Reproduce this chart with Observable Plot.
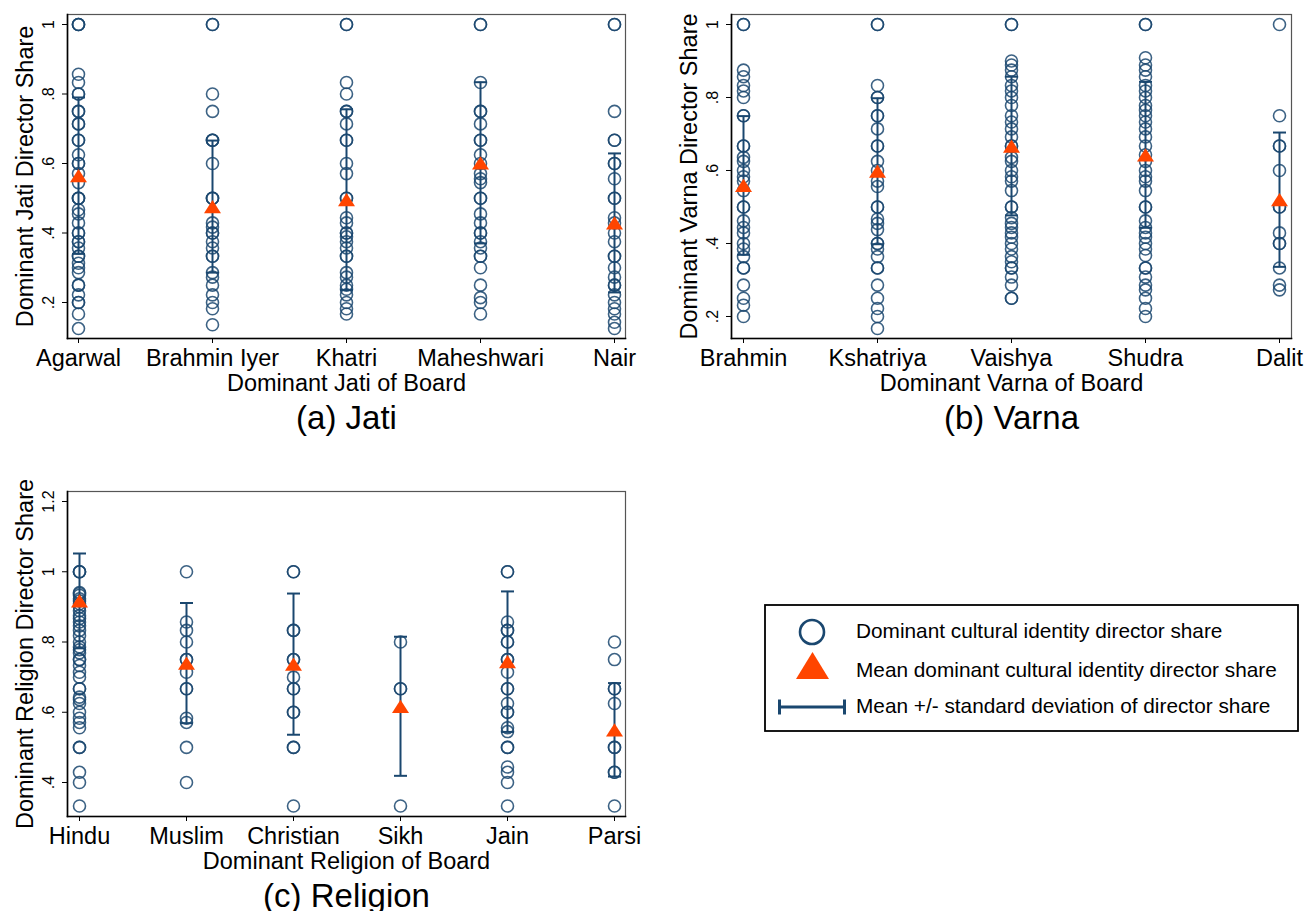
<!DOCTYPE html>
<html>
<head>
<meta charset="utf-8">
<script src="https://cdn.jsdelivr.net/npm/d3@7"></script>
<script src="https://cdn.jsdelivr.net/npm/@observablehq/plot@0.6"></script>
<style>
  body { margin: 0; background: #fff; }
  #chart { position: relative; width: 1305px; height: 911px; background: #fff;
           font-family: "Liberation Sans", Arial, sans-serif; }
  #chart > svg, #chart > figure { position: absolute; margin: 0; }
</style>
</head>
<body>
<div id="chart"></div>
<script>
// ---- Panel (a): dominant jati ----
const jatiCats = ["Agarwal", "Brahmin Iyer", "Khatri", "Maheshwari", "Nair"];
const jatiShares = [
  [1, 1, 1, 0.857, 0.833, 0.8, 0.8, 0.75, 0.75, 0.714, 0.714, 0.667, 0.667, 0.625, 0.6, 0.6, 0.571, 0.545,
   0.5, 0.5, 0.5, 0.467, 0.455, 0.429, 0.4, 0.4, 0.375, 0.375, 0.357, 0.333, 0.333, 0.313, 0.3, 0.286,
   0.25, 0.25, 0.222, 0.2, 0.2, 0.167, 0.125],
  [1, 1, 0.8, 0.75, 0.667, 0.667, 0.667, 0.6, 0.5, 0.5, 0.5, 0.429, 0.417, 0.4, 0.4, 0.375, 0.357,
   0.333, 0.333, 0.286, 0.273, 0.25, 0.222, 0.2, 0.182, 0.136],
  [1, 1, 0.833, 0.8, 0.75, 0.75, 0.714, 0.667, 0.667, 0.6, 0.571, 0.5, 0.5, 0.444, 0.429, 0.4, 0.4,
   0.389, 0.375, 0.357, 0.333, 0.333, 0.286, 0.273, 0.25, 0.238, 0.222, 0.2, 0.182, 0.167],
  [1, 1, 0.833, 0.75, 0.75, 0.714, 0.667, 0.667, 0.625, 0.6, 0.571, 0.556, 0.545, 0.5, 0.5, 0.455,
   0.429, 0.4, 0.4, 0.375, 0.357, 0.333, 0.333, 0.3, 0.25, 0.214, 0.2, 0.167],
  [1, 1, 0.75, 0.667, 0.667, 0.6, 0.6, 0.556, 0.5, 0.5, 0.444, 0.429, 0.4, 0.375, 0.333, 0.333, 0.3,
   0.273, 0.25, 0.25, 0.222, 0.2, 0.182, 0.167, 0.143, 0.125]
];
const jatiMean = [0.565, 0.476, 0.496, 0.602, 0.429];
const jatiSD = [0.225, 0.19, 0.26, 0.232, 0.2];

// ---- Panel (b): dominant varna ----
const varnaCats = ["Brahmin", "Kshatriya", "Vaishya", "Shudra", "Dalit"];
const varnaShares = [
  [1, 1, 0.875, 0.857, 0.833, 0.818, 0.8, 0.75, 0.75, 0.667, 0.667, 0.636, 0.625, 0.6, 0.583, 0.571,
   0.545, 0.5, 0.5, 0.462, 0.444, 0.429, 0.4, 0.385, 0.364, 0.333, 0.333, 0.286, 0.25, 0.231, 0.2],
  [1, 1, 0.833, 0.8, 0.8, 0.75, 0.75, 0.714, 0.667, 0.667, 0.625, 0.6, 0.571, 0.556, 0.5, 0.5, 0.467,
   0.455, 0.438, 0.4, 0.4, 0.385, 0.364, 0.333, 0.333, 0.286, 0.25, 0.222, 0.2, 0.167],
  [1, 1, 0.9, 0.889, 0.875, 0.857, 0.833, 0.818, 0.8, 0.778, 0.75, 0.733, 0.714, 0.692, 0.667, 0.667,
   0.636, 0.625, 0.6, 0.583, 0.571, 0.545, 0.5, 0.5, 0.471, 0.455, 0.444, 0.429, 0.417, 0.4, 0.385,
   0.364, 0.35, 0.333, 0.333, 0.308, 0.286, 0.25, 0.25],
  [1, 1, 0.909, 0.889, 0.875, 0.857, 0.833, 0.818, 0.8, 0.778, 0.765, 0.75, 0.733, 0.714, 0.692, 0.667,
   0.643, 0.625, 0.6, 0.583, 0.571, 0.545, 0.5, 0.5, 0.462, 0.444, 0.429, 0.417, 0.4, 0.385, 0.367,
   0.333, 0.333, 0.308, 0.286, 0.273, 0.25, 0.222, 0.2],
  [1, 0.75, 0.667, 0.667, 0.6, 0.5, 0.5, 0.429, 0.4, 0.4, 0.333, 0.286, 0.273]
];
const varnaMean = [0.559, 0.598, 0.667, 0.643, 0.52];
const varnaSD = [0.19, 0.2, 0.19, 0.2, 0.184];

// ---- Panel (c): dominant religion ----
const religionCats = ["Hindu", "Muslim", "Christian", "Sikh", "Jain", "Parsi"];
const religionShares = [
  [1, 1, 1, 0.941, 0.938, 0.933, 0.923, 0.917, 0.909, 0.9, 0.889, 0.875, 0.867, 0.857, 0.846, 0.833,
   0.818, 0.8, 0.786, 0.778, 0.769, 0.75, 0.75, 0.733, 0.714, 0.7, 0.667, 0.667, 0.643, 0.636, 0.625,
   0.6, 0.583, 0.571, 0.556, 0.5, 0.5, 0.429, 0.4, 0.333],
  [1, 0.857, 0.833, 0.8, 0.75, 0.75, 0.714, 0.667, 0.667, 0.583, 0.571, 0.5, 0.4],
  [1, 1, 0.833, 0.833, 0.75, 0.75, 0.7, 0.667, 0.667, 0.6, 0.6, 0.5, 0.5, 0.333],
  [0.8, 0.667, 0.667, 0.333],
  [1, 1, 0.857, 0.833, 0.833, 0.8, 0.8, 0.75, 0.75, 0.714, 0.667, 0.667, 0.625, 0.6, 0.6, 0.556,
   0.545, 0.5, 0.5, 0.444, 0.429, 0.4, 0.333],
  [0.8, 0.75, 0.667, 0.667, 0.625, 0.5, 0.5, 0.429, 0.429, 0.333]
];
const religionMean = [0.917, 0.74, 0.737, 0.617, 0.744, 0.55];
const religionSD = [0.135, 0.171, 0.201, 0.198, 0.2, 0.133];

const legendLabels = [
  "Dominant cultural identity director share",
  "Mean dominant cultural identity director share",
  "Mean +/- standard deviation of director share"
];

const navy = "#1a476f";
const orange = "#ff4500";
const fontFamily = "'Liberation Sans', Arial, sans-serif";

// Stata-style tick labels: ".2", ".4", "1", "1.2"
const shareFormat = v => (v === 1 ? "1" : d3.format(".1f")(v).replace(/^0/, ""));

// Horizontal cap for the error bars, half-width = r
const capSymbol = {
  draw(ctx, size) {
    const r = Math.sqrt(size / Math.PI);
    ctx.moveTo(-r, 0);
    ctx.lineTo(r, 0);
  }
};
// Upward triangle centred on its bounding box
const triSymbol = {
  draw(ctx, size) {
    const r = Math.sqrt(size / Math.PI);
    const h = r * 0.78;
    ctx.moveTo(0, -h);
    ctx.lineTo(r, h);
    ctx.lineTo(-r, h);
    ctx.closePath();
  }
};

function panel({cats, shares, mean, sd, yDomain, yTicks, xTitle, yTitle, title,
                width, height, marginLeft, marginRight, marginBottom, inset, left, top}) {
  const points = cats.flatMap((c, i) => shares[i].map(v => ({cat: c, v})));
  const stats = cats.map((c, i) => ({cat: c, mean: mean[i], lo: mean[i] - sd[i], hi: mean[i] + sd[i]}));
  const caps = stats.flatMap(d => [{cat: d.cat, v: d.lo}, {cat: d.cat, v: d.hi}]);

  const svg = Plot.plot({
    width, height,
    marginLeft, marginRight, marginTop: 14, marginBottom,
    style: {fontFamily, background: "transparent", color: "#000", overflow: "visible"},
    x: {type: "point", domain: cats, padding: 0, insetLeft: inset, insetRight: inset},
    y: {domain: yDomain},
    marks: [
      Plot.frame({stroke: "#555", strokeWidth: 1.2}),
      Plot.frame({anchor: "left", stroke: "#000", strokeWidth: 1.6}),
      Plot.frame({anchor: "bottom", stroke: "#000", strokeWidth: 1.6}),
      Plot.axisX({tickSize: 5, tickPadding: 6, fontSize: 23.5, label: null}),
      Plot.axisY({ticks: yTicks, tickFormat: shareFormat, tickRotate: -90, tickSize: 5,
                  tickPadding: 9, fontSize: 16, label: null}),
      Plot.dot(points, {x: "cat", y: "v", r: 6, stroke: navy, strokeWidth: 1.6,
                        strokeOpacity: 0.85, fill: "none"}),
      Plot.ruleX(stats, {x: "cat", y1: "lo", y2: "hi", stroke: navy, strokeWidth: 2}),
      Plot.dot(caps, {x: "cat", y: "v", r: 6.5, symbol: capSymbol, stroke: navy,
                      strokeWidth: 2, fill: "none"}),
      Plot.dot(stats, {x: "cat", y: "mean", r: 8.5, symbol: triSymbol, fill: orange, stroke: "none"}),
      Plot.text([xTitle], {frameAnchor: "bottom", dy: 52.5, lineAnchor: "bottom", fontSize: 23.5}),
      Plot.text([yTitle], {frameAnchor: "left", dx: -34.5, rotate: -90, lineAnchor: "bottom",
                           textAnchor: "middle", fontSize: 23.5}),
      Plot.text([title], {frameAnchor: "bottom", dy: 90, lineAnchor: "bottom", fontSize: 33})
    ]
  });
  svg.style.left = left + "px";
  svg.style.top = top + "px";
  document.getElementById("chart").appendChild(svg);
}

panel({
  cats: jatiCats, shares: jatiShares, mean: jatiMean, sd: jatiSD,
  yDomain: [0.0964, 1.0288], yTicks: [0.2, 0.4, 0.6, 0.8, 1],
  xTitle: "Dominant Jati of Board", yTitle: "Dominant Jati Director Share", title: "(a) Jati",
  width: 650, height: 440, marginLeft: 67, marginRight: 25, marginBottom: 102, inset: 10,
  left: 0, top: 0
});

panel({
  cats: varnaCats, shares: varnaShares, mean: varnaMean, sd: varnaSD,
  yDomain: [0.1397, 1.0274], yTicks: [0.2, 0.4, 0.6, 0.8, 1],
  xTitle: "Dominant Varna of Board", yTitle: "Dominant Varna Director Share", title: "(b) Varna",
  width: 640, height: 440, marginLeft: 66, marginRight: 14, marginBottom: 102, inset: 11,
  left: 665, top: 0
});

panel({
  cats: religionCats, shares: religionShares, mean: religionMean, sd: religionSD,
  yDomain: [0.3032, 1.2285], yTicks: [0.4, 0.6, 0.8, 1, 1.2],
  xTitle: "Dominant Religion of Board", yTitle: "Dominant Religion Director Share", title: "(c) Religion",
  width: 650, height: 434, marginLeft: 67, marginRight: 25, marginBottom: 95, inset: 10,
  left: 0, top: 477
});

// ---- Legend ----
const leg = d3.select("#chart").append("svg")
  .attr("width", 545).attr("height", 140)
  .style("left", "760px").style("top", "600px")
  .style("font-family", fontFamily);
// box from (765,605) to (1298,731) in page coordinates
leg.append("rect").attr("x", 5).attr("y", 5).attr("width", 533).attr("height", 126)
  .attr("fill", "#fff").attr("stroke", "#000").attr("stroke-width", 1.8);
leg.append("circle").attr("cx", 52).attr("cy", 32).attr("r", 12)
  .attr("fill", "none").attr("stroke", navy).attr("stroke-width", 2.6);
leg.append("path").attr("d", "M52.5,52L69,79L36,79Z").attr("fill", orange);
const bar = leg.append("g").attr("stroke", navy).attr("stroke-width", 3).attr("fill", "none");
bar.append("line").attr("x1", 19).attr("x2", 85).attr("y1", 107).attr("y2", 107);
bar.append("line").attr("x1", 19.5).attr("x2", 19.5).attr("y1", 99.5).attr("y2", 114.5);
bar.append("line").attr("x1", 84.5).attr("x2", 84.5).attr("y1", 99.5).attr("y2", 114.5);
leg.selectAll("text.lbl").data(legendLabels).join("text")
  .attr("class", "lbl")
  .attr("x", 96)
  .attr("y", (d, i) => [38, 77, 113][i])
  .attr("font-size", 20.8)
  .attr("fill", "#000")
  .text(d => d);
</script>
</body>
</html>
